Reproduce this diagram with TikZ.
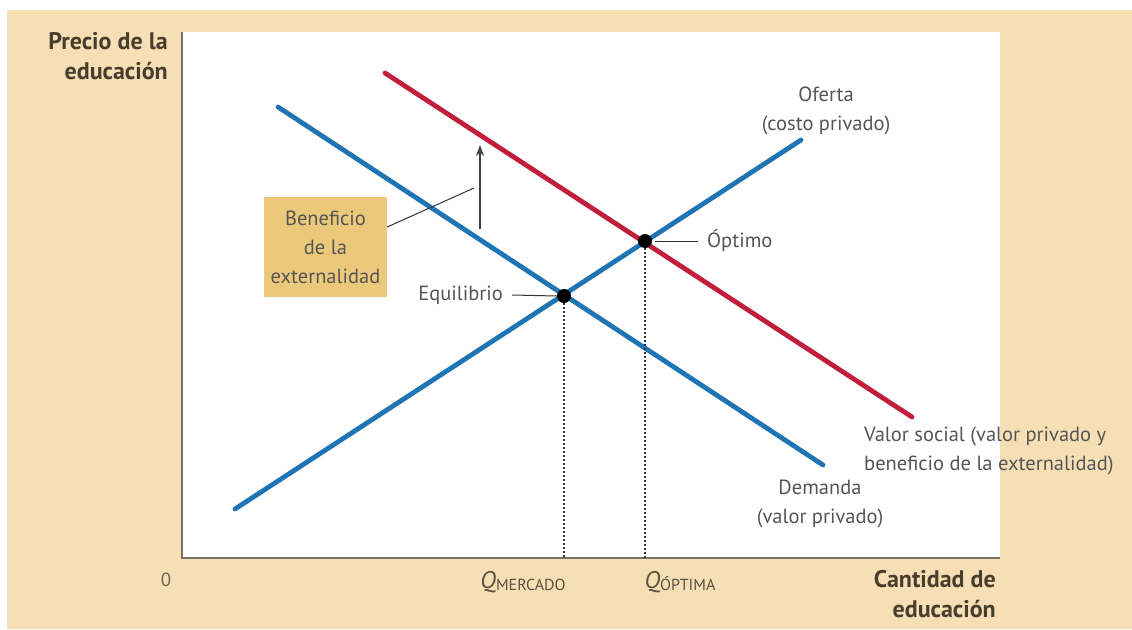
\documentclass[tikz,border=0pt]{standalone}
\usepackage{fontspec}
\setmainfont{PT Sans}
\usetikzlibrary{arrows.meta}
\definecolor{beige}{RGB}{246,223,181}
\definecolor{boxfill}{RGB}{236,201,122}
\definecolor{curveblue}{RGB}{31,117,180}
\definecolor{curvered}{RGB}{192,30,58}
\definecolor{txtgray}{RGB}{85,85,85}
\definecolor{axisbrown}{RGB}{72,62,45}
\definecolor{axisline}{RGB}{120,112,98}
\begin{document}
\begin{tikzpicture}[x=1pt,y=-1pt,
  curve/.style={line width=4.8pt,line cap=round},
  lbl/.style={text=txtgray,font=\fontsize{20.5}{29}\selectfont,inner sep=0pt,align=center},
  axlbl/.style={text=axisbrown,font=\fontsize{24}{30}\selectfont\bfseries,inner sep=0pt,align=right},
  pt/.style={circle,fill=black,inner sep=0pt,minimum size=14pt},
  leader/.style={line width=1pt,draw=black!80},
  dotline/.style={line width=1.8pt,dash pattern=on 1.8pt off 2.2pt,draw=black!80}]
\useasboundingbox (0,0) rectangle (1132,629);
\fill[white] (0,0) rectangle (1132,629);
\fill[beige] (7,10) rectangle (1132,629);
\fill[white] (183,32) rectangle (1000,558);
% axes
\coordinate (O) at (182,558);
\coordinate (ytop) at (182,32);
\coordinate (xend) at (1000,558);
\draw[axisline,line width=2.5pt] (ytop) -- (O) -- (xend);
% curves
\coordinate (s1) at (235,509); \coordinate (s2) at (801,140);
\coordinate (d1) at (278,107); \coordinate (d2) at (823,465);
\coordinate (r1) at (385,73); \coordinate (r2) at (912,417);
\draw[curve,curveblue] (s1) -- (s2);
\draw[curve,curveblue] (d1) -- (d2);
\draw[curve,curvered] (r1) -- (r2);
% points
\node[pt] (eq) at (564,296) {};
\node[pt] (op) at (645,241) {};
\coordinate (qm) at (564,558);
\coordinate (qo) at (645,558);
\draw[dotline] (eq) -- (qm);
\draw[dotline] (op) -- (qo);
% labels
\node[lbl,anchor=east] (eqlbl) at (503,295) {Equilibrio};
\draw[leader] (eqlbl.east) ++(9,0) coordinate (eqa) -- (eq.west);
\node[lbl,anchor=west] (oplbl) at (707,241) {Óptimo};
\coordinate (opa) at (698,241);
\draw[leader] (op.east) ++(3,0) -- (opa);
\node[lbl] (oferta) at (826,111) {Oferta\\(costo privado)};
\node[lbl] (demanda) at (820,504) {Demanda\\(valor privado)};
\node[lbl,anchor=west,align=left] (social) at (864,451) {Valor social (valor privado y\\beneficio de la externalidad)};
% box
\node[lbl,fill=boxfill,minimum width=123pt,minimum height=100pt] (box) at (325.5,247) {Beneficio\\de la\\externalidad};
\coordinate (arrb) at (480,229);
\coordinate (arrt) at (480,145);
\draw[line width=1.6pt,draw=black!75,-{Stealth[length=11pt,width=8pt]}] (arrb) -- (arrt);
\coordinate (lead) at (474,188);
\draw[leader] (box.east) ++(0,-20) -- (lead);
% axis labels
\node[axlbl,anchor=north east] (ylbl) at (168,32) {Precio de la\\educación};
\node[axlbl,anchor=north east] (xlbl) at (996,570) {Cantidad de\\educación};
\node[text=axisbrown!80,font=\fontsize{19}{20}\selectfont,inner sep=0pt] (zero) at (166,580) {0};
\node[text=axisbrown!90,font=\fontsize{24}{24}\selectfont,inner sep=0pt] (qmlbl) at (523,582) {\textit{Q}\raisebox{-2pt}{\fontsize{16}{16}\selectfont MERCADO}};
\node[text=axisbrown!90,font=\fontsize{24}{24}\selectfont,inner sep=0pt] (qolbl) at (680,582) {\textit{Q}\raisebox{-2pt}{\fontsize{16}{16}\selectfont ÓPTIMA}};
\end{tikzpicture}
\end{document}
